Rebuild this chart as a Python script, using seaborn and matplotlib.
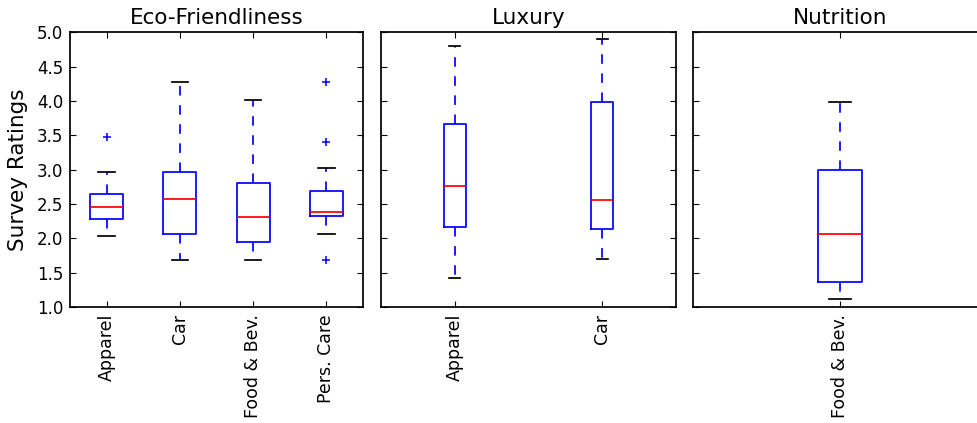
import matplotlib
matplotlib.use("Agg")
import matplotlib.pyplot as plt
import seaborn as sns
import pandas as pd

# ---- data (box summaries) ----
panels = ["Eco-Friendliness", "Luxury", "Nutrition"]

eco_cats = ["Apparel", "Car", "Food & Bev.", "Pers. Care"]
eco_whislo = [2.04, 1.68, 1.69, 2.07]
eco_q1 = [2.28, 2.07, 1.95, 2.32]
eco_med = [2.46, 2.57, 2.31, 2.39]
eco_q3 = [2.65, 2.96, 2.81, 2.69]
eco_whishi = [2.96, 4.28, 4.02, 3.03]
eco_fliers = [[3.47], [], [], [1.69, 3.40, 4.28]]

lux_cats = ["Apparel", "Car"]
lux_whislo = [1.42, 1.70]
lux_q1 = [2.16, 2.13]
lux_med = [2.76, 2.56]
lux_q3 = [3.66, 3.98]
lux_whishi = [4.80, 4.90]
lux_fliers = [[], []]

nut_cats = ["Food & Bev."]
nut_whislo = [1.12]
nut_q1 = [1.36]
nut_med = [2.07]
nut_q3 = [2.99]
nut_whishi = [3.99]
nut_fliers = [[]]

yticks = [1.0, 1.5, 2.0, 2.5, 3.0, 3.5, 4.0, 4.5, 5.0]


def sample_from_summary(lo, q1, med, q3, hi, fliers):
    """Observations whose quartiles / whiskers reproduce the summary."""
    low = sorted(f for f in fliers if f < lo)
    high = sorted(f for f in fliers if f > hi)
    k = max(len(low), len(high)) + 1
    vals = low + [lo] + [q1] * (k - len(low) - 1) + [q1]
    vals += [med] * (k - 1) + [med] + [med] * (k - 1) + [q3]
    vals += [q3] * (k - len(high) - 1) + [hi] + high
    return vals


def build_frame(cats, los, q1s, meds, q3s, his, fls):
    rows = []
    for c, lo, a, m, b, hi, f in zip(cats, los, q1s, meds, q3s, his, fls):
        for v in sample_from_summary(lo, a, m, b, hi, f):
            rows.append({"cat": c, "val": v})
    return pd.DataFrame(rows)


frames = [
    build_frame(eco_cats, eco_whislo, eco_q1, eco_med, eco_q3, eco_whishi, eco_fliers),
    build_frame(lux_cats, lux_whislo, lux_q1, lux_med, lux_q3, lux_whishi, lux_fliers),
    build_frame(nut_cats, nut_whislo, nut_q1, nut_med, nut_q3, nut_whishi, nut_fliers),
]
orders = [eco_cats, lux_cats, nut_cats]
widths = [0.45, 0.15, 0.15]

plt.rcParams.update({
    "font.family": ["DejaVu Sans"],
    "xtick.direction": "in",
    "ytick.direction": "in",
    "xtick.top": True,
    "ytick.right": True,
    "xtick.major.size": 4,
    "ytick.major.size": 4,
    "axes.linewidth": 1.0,
    "axes.edgecolor": "black",
    "xtick.color": "black",
    "ytick.color": "black",
    "figure.facecolor": "white",
    "savefig.facecolor": "white",
})

LW = 1.25

fig = plt.figure(figsize=(9.77, 4.23), dpi=100)
bottom, height = 0.2742, 0.6494
rects = [
    [70 / 977, bottom, 293 / 977, height],
    [381 / 977, bottom, 295 / 977, height],
    [693 / 977, bottom, 294 / 977, height],
]

axes = []
for i, (title, df, order, w) in enumerate(zip(panels, frames, orders, widths)):
    ax = fig.add_axes(rects[i])
    axes.append(ax)
    sns.boxplot(
        data=df, x="cat", y="val", order=order, ax=ax,
        fill=False, color="blue", width=w, whis=1.5, linewidth=LW,
        boxprops=dict(color="blue", linewidth=LW),
        whiskerprops=dict(color="blue", linestyle=(0, (5.5, 5.5)), linewidth=LW),
        capprops=dict(color="black", linewidth=LW),
        medianprops=dict(color="red", linewidth=LW),
        flierprops=dict(marker="+", markeredgecolor="blue", markersize=6,
                        markeredgewidth=1.1),
    )
    ax.set_ylim(1.0, 5.0)
    ax.set_yticks(yticks)
    ax.set_xlim(-0.5, len(order) - 0.5)
    ax.set_title(title, fontsize=15.5, pad=6)
    ax.set_xlabel("")
    ax.grid(False)
    ax.set_facecolor("white")
    for s in ax.spines.values():
        s.set_visible(True)
        s.set_color("black")
        s.set_linewidth(1.25)
    ax.tick_params(axis="x", labelrotation=90, labelsize=12.5, top=True,
                   direction="in", length=4, pad=5)
    ax.tick_params(axis="y", labelsize=12, right=True, direction="in",
                   length=4, pad=5)
    if i == 0:
        ax.set_ylabel("Survey Ratings", fontsize=15.5, labelpad=6)
        ax.set_yticklabels([f"{t:.1f}" for t in yticks])
    else:
        ax.set_ylabel("")
        ax.tick_params(axis="y", labelleft=False)

fig.savefig("out.png", dpi=100)
